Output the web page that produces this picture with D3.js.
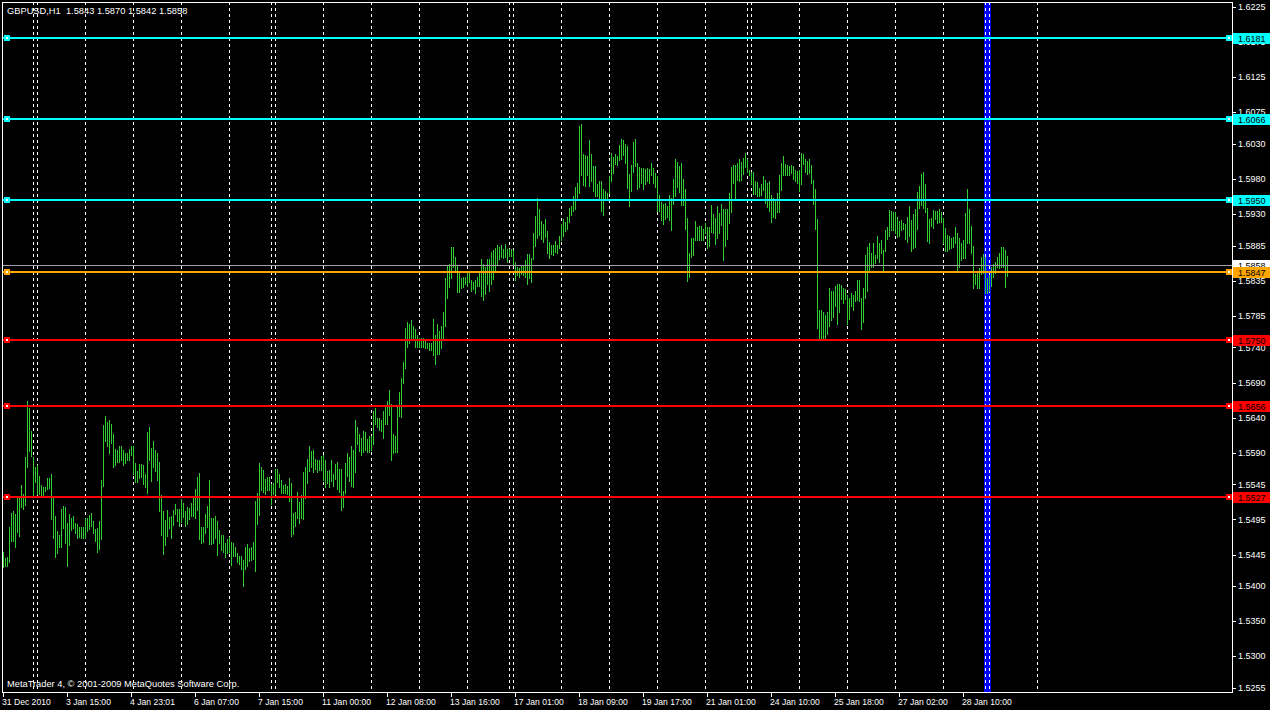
<!DOCTYPE html>
<html><head><meta charset="utf-8">
<script src="https://cdn.jsdelivr.net/npm/d3@7"></script>
<style>html,body{margin:0;padding:0;background:#000;overflow:hidden}</style>
</head><body><svg id="c" width="1270" height="710"></svg>
<script>
// ---------------- DATA ----------------
const chartTitle = "GBPUSD,H1  1.5843 1.5870 1.5842 1.5858";
const copyrightText = "MetaTrader 4, \u00A9 2001-2009 MetaQuotes Software Corp.";

// hourly bar highs (one per bar, oldest first)
const highs = [
1.5449,1.5440,1.5441,1.5484,1.5504,1.5507,1.5503,1.5526,1.5529,1.5544,
1.5531,1.5584,1.5663,1.5653,1.5621,1.5584,1.5569,1.5572,1.5557,1.5544,
1.5541,1.5541,1.5554,1.5554,1.5559,1.5526,1.5500,1.5479,1.5473,1.5510,
1.5514,1.5513,1.5490,1.5503,1.5497,1.5500,1.5490,1.5489,1.5484,1.5484,
1.5484,1.5497,1.5497,1.5501,1.5504,1.5493,1.5481,1.5483,1.5493,1.5551,
1.5630,1.5643,1.5634,1.5636,1.5631,1.5617,1.5596,1.5594,1.5600,1.5599,
1.5594,1.5590,1.5589,1.5596,1.5599,1.5599,1.5576,1.5564,1.5574,1.5574,
1.5572,1.5560,1.5619,1.5626,1.5597,1.5606,1.5594,1.5590,1.5577,1.5530,
1.5507,1.5494,1.5509,1.5499,1.5500,1.5509,1.5517,1.5510,1.5510,1.5524,
1.5519,1.5507,1.5513,1.5511,1.5519,1.5526,1.5539,1.5556,1.5561,1.5484,
1.5484,1.5503,1.5514,1.5551,1.5497,1.5497,1.5500,1.5493,1.5480,1.5473,
1.5473,1.5461,1.5467,1.5470,1.5463,1.5461,1.5456,1.5447,1.5443,1.5443,
1.5437,1.5456,1.5460,1.5454,1.5456,1.5463,1.5521,1.5533,1.5576,1.5570,
1.5566,1.5553,1.5556,1.5556,1.5546,1.5547,1.5567,1.5567,1.5559,1.5551,
1.5544,1.5546,1.5543,1.5554,1.5547,1.5504,1.5506,1.5534,1.5520,1.5530,
1.5563,1.5569,1.5581,1.5600,1.5593,1.5594,1.5581,1.5579,1.5580,1.5586,
1.5587,1.5579,1.5564,1.5566,1.5580,1.5559,1.5574,1.5577,1.5567,1.5567,
1.5536,1.5576,1.5589,1.5584,1.5599,1.5594,1.5637,1.5626,1.5616,1.5611,
1.5621,1.5620,1.5609,1.5614,1.5614,1.5649,1.5653,1.5639,1.5639,1.5636,
1.5649,1.5656,1.5663,1.5679,1.5659,1.5616,1.5614,1.5657,1.5676,1.5697,
1.5719,1.5767,1.5776,1.5773,1.5779,1.5771,1.5766,1.5757,1.5754,1.5754,
1.5754,1.5751,1.5747,1.5747,1.5747,1.5781,1.5757,1.5774,1.5764,1.5771,
1.5790,1.5839,1.5857,1.5859,1.5883,1.5883,1.5869,1.5857,1.5846,1.5839,
1.5841,1.5841,1.5849,1.5849,1.5836,1.5833,1.5836,1.5841,1.5846,1.5866,
1.5859,1.5854,1.5866,1.5866,1.5876,1.5879,1.5881,1.5886,1.5883,1.5886,
1.5880,1.5887,1.5880,1.5880,1.5880,1.5879,1.5861,1.5854,1.5853,1.5856,
1.5856,1.5864,1.5873,1.5873,1.5867,1.5903,1.5927,1.5953,1.5937,1.5920,
1.5916,1.5923,1.5906,1.5890,1.5886,1.5886,1.5891,1.5886,1.5899,1.5916,
1.5923,1.5919,1.5926,1.5939,1.5941,1.5956,1.5969,1.5974,1.6056,1.6059,
1.6016,1.6014,1.6013,1.6036,1.6016,1.5999,1.5999,1.5973,1.5977,1.5977,
1.5966,1.5963,1.5960,1.5984,1.6017,1.6011,1.6016,1.6013,1.6029,1.6037,
1.6036,1.6030,1.6027,1.5987,1.6000,1.6033,1.6037,1.6003,1.5997,1.5996,
1.5996,1.5994,1.5996,1.5994,1.6003,1.5996,1.5989,1.5984,1.5957,1.5947,
1.5944,1.5946,1.5941,1.5957,1.5953,1.5980,1.6009,1.6004,1.5999,1.6003,
1.5980,1.5966,1.5924,1.5874,1.5896,1.5896,1.5920,1.5911,1.5913,1.5913,
1.5909,1.5917,1.5911,1.5911,1.5943,1.5930,1.5924,1.5941,1.5931,1.5944,
1.5937,1.5937,1.5937,1.5960,1.5997,1.6000,1.6000,1.6003,1.6009,1.6004,
1.6010,1.6017,1.6009,1.5993,1.5990,1.5990,1.5977,1.5976,1.5967,1.5973,
1.5984,1.5979,1.5974,1.5977,1.5957,1.5953,1.5950,1.5960,1.5986,1.6003,
1.6013,1.6001,1.6000,1.5999,1.6000,1.5999,1.5993,1.5991,1.5993,1.6017,
1.6016,1.6009,1.6006,1.6009,1.6000,1.5979,1.5966,1.5923,1.5794,1.5794,
1.5790,1.5786,1.5791,1.5824,1.5821,1.5821,1.5827,1.5830,1.5831,1.5829,
1.5824,1.5823,1.5814,1.5811,1.5817,1.5814,1.5821,1.5836,1.5836,1.5810,
1.5824,1.5871,1.5883,1.5889,1.5874,1.5889,1.5871,1.5899,1.5889,1.5893,
1.5879,1.5907,1.5911,1.5936,1.5934,1.5933,1.5933,1.5926,1.5920,1.5921,
1.5917,1.5916,1.5926,1.5941,1.5921,1.5930,1.5937,1.5961,1.5970,1.5987,
1.5990,1.5973,1.5939,1.5923,1.5924,1.5936,1.5934,1.5934,1.5937,1.5933,
1.5924,1.5910,1.5900,1.5899,1.5896,1.5897,1.5911,1.5903,1.5896,1.5889,
1.5893,1.5931,1.5966,1.5937,1.5913,1.5884,1.5844,1.5846,1.5853,1.5869,
1.5873,1.5869,1.5839,1.5843,1.5854,1.5859,1.5861,1.5869,1.5874,1.5883,
1.5883,1.5879,1.5870
];

// hourly bar lows (one per bar, oldest first)
const lows = [
1.5427,1.5429,1.5429,1.5434,1.5464,1.5464,1.5456,1.5477,1.5471,1.5513,
1.5510,1.5516,1.5569,1.5593,1.5586,1.5529,1.5549,1.5531,1.5531,1.5529,
1.5529,1.5536,1.5539,1.5540,1.5496,1.5469,1.5441,1.5447,1.5456,1.5456,
1.5483,1.5461,1.5429,1.5459,1.5480,1.5483,1.5476,1.5469,1.5470,1.5469,
1.5469,1.5469,1.5479,1.5481,1.5486,1.5476,1.5464,1.5449,1.5453,1.5467,
1.5543,1.5607,1.5599,1.5590,1.5604,1.5569,1.5573,1.5577,1.5577,1.5580,
1.5572,1.5576,1.5579,1.5580,1.5587,1.5560,1.5549,1.5549,1.5554,1.5556,
1.5546,1.5541,1.5533,1.5580,1.5550,1.5569,1.5564,1.5551,1.5507,1.5473,
1.5446,1.5459,1.5471,1.5483,1.5469,1.5487,1.5503,1.5493,1.5486,1.5491,
1.5499,1.5486,1.5489,1.5496,1.5500,1.5500,1.5497,1.5509,1.5467,1.5461,
1.5463,1.5476,1.5484,1.5460,1.5460,1.5461,1.5469,1.5444,1.5461,1.5451,
1.5449,1.5441,1.5447,1.5449,1.5430,1.5443,1.5443,1.5434,1.5431,1.5424,
1.5400,1.5424,1.5429,1.5436,1.5437,1.5439,1.5421,1.5489,1.5501,1.5537,
1.5534,1.5531,1.5537,1.5537,1.5517,1.5531,1.5531,1.5549,1.5541,1.5533,
1.5533,1.5533,1.5531,1.5521,1.5471,1.5474,1.5486,1.5497,1.5490,1.5497,
1.5496,1.5526,1.5547,1.5564,1.5569,1.5563,1.5567,1.5563,1.5566,1.5566,
1.5551,1.5541,1.5547,1.5541,1.5550,1.5543,1.5553,1.5539,1.5534,1.5509,
1.5513,1.5533,1.5557,1.5550,1.5543,1.5541,1.5563,1.5603,1.5593,1.5587,
1.5591,1.5594,1.5591,1.5591,1.5594,1.5603,1.5631,1.5626,1.5623,1.5621,
1.5611,1.5631,1.5631,1.5644,1.5579,1.5589,1.5591,1.5591,1.5643,1.5641,
1.5689,1.5710,1.5741,1.5747,1.5754,1.5750,1.5741,1.5740,1.5740,1.5741,
1.5741,1.5739,1.5739,1.5737,1.5737,1.5729,1.5716,1.5730,1.5730,1.5739,
1.5750,1.5770,1.5811,1.5826,1.5839,1.5854,1.5847,1.5819,1.5819,1.5824,
1.5826,1.5830,1.5827,1.5833,1.5820,1.5823,1.5817,1.5827,1.5827,1.5813,
1.5807,1.5816,1.5830,1.5821,1.5830,1.5837,1.5851,1.5859,1.5866,1.5869,
1.5867,1.5869,1.5861,1.5870,1.5870,1.5857,1.5836,1.5843,1.5841,1.5844,
1.5843,1.5840,1.5831,1.5839,1.5833,1.5866,1.5884,1.5896,1.5900,1.5894,
1.5890,1.5897,1.5874,1.5867,1.5873,1.5871,1.5876,1.5874,1.5881,1.5893,
1.5899,1.5906,1.5909,1.5919,1.5929,1.5934,1.5937,1.5951,1.5960,1.5986,
1.5971,1.5970,1.5986,1.5970,1.5977,1.5963,1.5956,1.5956,1.5951,1.5934,
1.5929,1.5951,1.5951,1.5960,1.5977,1.5989,1.6001,1.6000,1.6007,1.6009,
1.6014,1.6003,1.5967,1.5941,1.5963,1.5990,1.5999,1.5966,1.5969,1.5974,
1.5966,1.5973,1.5977,1.5974,1.5986,1.5974,1.5969,1.5934,1.5934,1.5921,
1.5916,1.5923,1.5926,1.5921,1.5907,1.5944,1.5956,1.5969,1.5961,1.5943,
1.5943,1.5909,1.5834,1.5840,1.5869,1.5871,1.5893,1.5893,1.5893,1.5893,
1.5893,1.5903,1.5881,1.5884,1.5904,1.5903,1.5887,1.5896,1.5903,1.5914,
1.5864,1.5884,1.5894,1.5917,1.5933,1.5974,1.5951,1.5979,1.5977,1.5979,
1.5987,1.5997,1.5990,1.5986,1.5973,1.5959,1.5959,1.5956,1.5956,1.5957,
1.5964,1.5946,1.5940,1.5934,1.5919,1.5926,1.5924,1.5933,1.5933,1.5964,
1.5986,1.5986,1.5986,1.5986,1.5989,1.5980,1.5977,1.5974,1.5963,1.5973,
1.6001,1.5990,1.5987,1.5989,1.5974,1.5944,1.5909,1.5767,1.5750,1.5753,
1.5754,1.5751,1.5759,1.5771,1.5779,1.5784,1.5799,1.5774,1.5791,1.5809,
1.5804,1.5809,1.5773,1.5780,1.5799,1.5794,1.5806,1.5807,1.5806,1.5766,
1.5776,1.5810,1.5820,1.5847,1.5854,1.5854,1.5860,1.5867,1.5861,1.5874,
1.5850,1.5877,1.5894,1.5899,1.5907,1.5907,1.5903,1.5897,1.5899,1.5907,
1.5909,1.5894,1.5890,1.5899,1.5877,1.5881,1.5883,1.5909,1.5939,1.5943,
1.5939,1.5933,1.5891,1.5889,1.5913,1.5910,1.5923,1.5917,1.5919,1.5919,
1.5889,1.5877,1.5877,1.5880,1.5881,1.5883,1.5889,1.5850,1.5854,1.5864,
1.5867,1.5867,1.5889,1.5889,1.5874,1.5824,1.5830,1.5824,1.5824,1.5844,
1.5846,1.5817,1.5817,1.5821,1.5827,1.5840,1.5846,1.5854,1.5853,1.5854,
1.5854,1.5826,1.5842
];

// trading days and number of hourly bar slots in each
const dayNames = ["31 Dec","2 Jan","3 Jan","4 Jan","5 Jan","6 Jan","7 Jan","9 Jan","10 Jan","11 Jan",
  "12 Jan","13 Jan","14 Jan","16 Jan","17 Jan","18 Jan","19 Jan","20 Jan","21 Jan","23 Jan",
  "24 Jan","25 Jan","26 Jan","27 Jan","28 Jan","30 Jan","31 Jan","1 Feb"];
const dayBars = [15,2,24,24,24,24,21,2,24,24,
  24,24,21,2,24,24,24,24,21,2,
  24,24,24,24,21,2,24,24];

// time axis labels, one every 32 bars
const timeLabels = ["31 Dec 2010","3 Jan 15:00","4 Jan 23:01","6 Jan 07:00","7 Jan 15:00",
  "11 Jan 00:00","12 Jan 08:00","13 Jan 16:00","17 Jan 01:00","18 Jan 09:00","19 Jan 17:00",
  "21 Jan 01:00","24 Jan 10:00","25 Jan 18:00","27 Jan 02:00","28 Jan 10:00"];
const timeLabelStep = 32;

// price axis tick labels
const priceTicks = [1.6225,1.6175,1.6125,1.6075,1.6030,1.5980,1.5930,1.5885,1.5835,1.5785,
  1.5740,1.5690,1.5640,1.5590,1.5545,1.5495,1.5445,1.5400,1.5350,1.5300,1.5255];

// horizontal level lines
const levelPrices = [1.6181,1.6066,1.5950,1.5847,1.5750,1.5656,1.5527];
const levelKinds  = ["fib","fib","fib","pivot","support","support","support"];
const bidPrice = 1.5858;
const verticalLineBar = 492;

// ---------------- DRAW ----------------
const W = 1270, H = 710;
const L = 2, R = 1232, T = 2, B = 692;
const kindColor = {fib:"#00ffff", pivot:"#ffa500", support:"#ff0000"};
const barColor = "#32cd32";
const FONT = "'Liberation Sans', Arial, sans-serif";

const svg = d3.select("#c");
svg.append("rect").attr("width",W).attr("height",H).attr("fill","#000");

const x = d3.scaleLinear().domain([0, 615]).range([3, 1233]);
const y = d3.scaleLinear().domain([1.52477, 1.62321]).range([693, 2]);

const plot = svg.append("g");

// vertical blue line object (background)
plot.append("rect")
  .attr("x", x(verticalLineBar) - 3).attr("y", T)
  .attr("width", 7).attr("height", B - T + 1)
  .attr("fill", "#0000ff");

// day separators
const dayStarts = d3.cumsum(dayBars).slice(0, -1);
plot.selectAll("line.sep").data(dayStarts).join("line")
  .attr("class","sep")
  .attr("x1", d => x(d) + 0.5).attr("x2", d => x(d) + 0.5)
  .attr("y1", T).attr("y2", B + 1)
  .attr("stroke", "#ffffff").attr("stroke-width", 1)
  .attr("stroke-dasharray", "3,3");

// bars (high-low)
const bars = highs.map((h, i) => ({i, h, l: lows[i]}));
plot.selectAll("rect.bar").data(bars).join("rect")
  .attr("class","bar")
  .attr("x", d => x(d.i))
  .attr("y", d => Math.round(y(d.h)))
  .attr("width", 1)
  .attr("height", d => Math.max(1, Math.round(y(d.l)) - Math.round(y(d.h)) + 1))
  .attr("fill", barColor);

// bid line
plot.append("line")
  .attr("x1", L).attr("x2", R)
  .attr("y1", Math.round(y(bidPrice)) + 0.5).attr("y2", Math.round(y(bidPrice)) + 0.5)
  .attr("stroke", "#a0a0a8").attr("stroke-width", 1);

// level lines
const levels = levelPrices.map((p, k) => ({p, c: kindColor[levelKinds[k]]}));
const lg = plot.selectAll("g.level").data(levels).join("g").attr("class","level");
lg.append("rect")
  .attr("x", L + 1).attr("y", d => Math.round(y(d.p)) - 1)
  .attr("width", R - L - 1).attr("height", 2)
  .attr("fill", d => d.c);
[4, 1226].forEach(hx => {
  lg.append("rect").attr("x", hx).attr("y", d => Math.round(y(d.p)) - 3)
    .attr("width", 6).attr("height", 6).attr("fill", d => d.c);
  lg.append("rect").attr("x", hx + 2).attr("y", d => Math.round(y(d.p)) - 1)
    .attr("width", 2).attr("height", 2).attr("fill", "#ffffff");
});

// frame
svg.append("rect")
  .attr("x", L + 0.5).attr("y", T + 0.5)
  .attr("width", R - L).attr("height", B - T)
  .attr("fill", "none").attr("stroke", "#ffffff").attr("stroke-width", 1);

// price axis
const pa = svg.append("g");
pa.selectAll("line").data(priceTicks).join("line")
  .attr("x1", R + 1).attr("x2", R + 4)
  .attr("y1", d => Math.round(y(d)) + 0.5).attr("y2", d => Math.round(y(d)) + 0.5)
  .attr("stroke", "#ffffff");
pa.selectAll("text").data(priceTicks).join("text")
  .attr("x", R + 6).attr("y", d => y(d) + 3.2)
  .attr("fill", "#ffffff").attr("font-family", FONT).attr("font-size", "9px")
  .text(d => d.toFixed(4));

// price labels (bid + levels)
function priceBox(p, bg) {
  const cy = Math.round(y(p));
  svg.append("rect").attr("x", R + 1).attr("y", cy - 5).attr("width", W - R - 1).attr("height", 11).attr("fill", bg);
  svg.append("text").attr("x", R + 6).attr("y", cy + 3.5)
    .attr("fill", "#000000").attr("font-family", FONT).attr("font-size", "9px")
    .text(p.toFixed(4));
}
priceBox(bidPrice, "#ffffff");
levels.forEach(d => priceBox(d.p, d.c));

// time axis
const ta = svg.append("g");
const tl = timeLabels.map((t, k) => ({t, i: k * timeLabelStep}));
ta.selectAll("line").data(tl).join("line")
  .attr("x1", d => x(d.i) + 0.5).attr("x2", d => x(d.i) + 0.5)
  .attr("y1", B + 1).attr("y2", B + 5)
  .attr("stroke", "#ffffff");
ta.selectAll("text").data(tl).join("text")
  .attr("x", d => x(d.i) - 1).attr("y", 705)
  .attr("fill", "#ffffff").attr("font-family", FONT).attr("font-size", "8.6px")
  .text(d => d.t);

// title and copyright
svg.append("text").attr("x", 7).attr("y", 13.5)
  .attr("fill", "#ffffff").attr("font-family", FONT).attr("font-size", "9.3px")
  .attr("xml:space", "preserve").style("white-space", "pre")
  .text(chartTitle);
svg.append("text").attr("x", 7).attr("y", 687)
  .attr("fill", "#ffffff").attr("font-family", FONT).attr("font-size", "9.3px")
  .text(copyrightText);
</script>
</body></html>
